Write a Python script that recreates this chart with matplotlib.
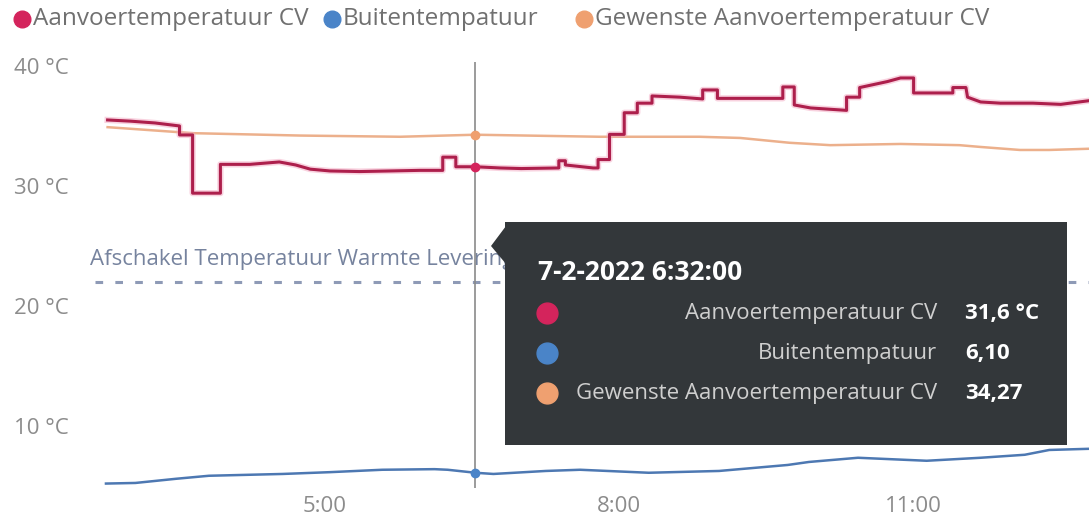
import matplotlib
matplotlib.use('Agg')
import matplotlib.pyplot as plt
import matplotlib.dates as mdates
from matplotlib.patches import Polygon, FancyBboxPatch
from matplotlib.lines import Line2D
import pandas as pd

plt.rcParams['font.family'] = ['Open Sans', 'DejaVu Sans']

# ---------------- data ----------------
DAG = '2022-02-07 '

# Aanvoertemperatuur CV (°C) - dubbele tijden = verticale stap
aanvoer_tijd = ['2:47', '3:01', '3:16', '3:31', '3:31', '3:39', '3:39', '3:56', '3:56', '4:14',
                '4:32', '4:42', '4:51', '5:03', '5:21', '5:40', '5:58', '6:12', '6:12', '6:20',
                '6:20', '6:32', '6:47', '7:00', '7:23', '7:23', '7:27', '7:27', '7:44', '7:47',
                '7:47', '7:54', '7:54', '8:03', '8:03', '8:11', '8:11', '8:20', '8:20', '8:37',
                '8:51', '8:51', '9:00', '9:00', '9:40', '9:40', '9:47', '9:47', '9:57', '10:19',
                '10:19', '10:27', '10:27', '10:44', '10:52', '11:00', '11:00', '11:24', '11:24', '11:32',
                '11:33', '11:41', '11:53', '12:13', '12:30', '12:47']
aanvoer_temp = [35.5, 35.4, 35.25, 35.0, 34.25, 34.25, 29.4, 29.4, 31.8, 31.8,
                32.0, 31.75, 31.4, 31.25, 31.2, 31.25, 31.3, 31.3, 32.4, 32.4,
                31.6, 31.6, 31.5, 31.45, 31.5, 32.1, 32.1, 31.75, 31.5, 31.5,
                32.2, 32.2, 34.3, 34.3, 36.1, 36.1, 36.9, 36.9, 37.5, 37.4,
                37.25, 38.0, 38.0, 37.3, 37.3, 38.25, 38.25, 36.75, 36.5, 36.3,
                37.4, 37.4, 38.2, 38.7, 39.0, 39.0, 37.75, 37.75, 38.2, 38.2,
                37.4, 37.0, 36.9, 36.9, 36.8, 37.1]

# Buitentempatuur (°C)
buiten_tijd = ['2:46', '3:04', '3:29', '3:49', '4:34', '5:03', '5:35', '6:07', '6:15', '6:32',
               '6:43', '7:15', '7:36', '8:18', '9:01', '9:43', '9:56', '10:26', '11:08', '11:41',
               '12:08', '12:23', '12:48']
buiten_temp = [5.2, 5.25, 5.6, 5.85, 6.0, 6.15, 6.35, 6.4, 6.35, 6.1,
               6.0, 6.25, 6.35, 6.1, 6.25, 6.75, 7.0, 7.35, 7.1, 7.35,
               7.6, 8.0, 8.1]

# Gewenste Aanvoertemperatuur CV (°C)
gewenst_tijd = ['2:47', '3:39', '4:45', '5:46', '6:32', '7:48', '8:49', '9:14', '9:44', '10:09',
                '10:52', '11:28', '11:41', '12:05', '12:23', '12:47']
gewenst_temp = [34.9, 34.4, 34.2, 34.1, 34.27, 34.1, 34.1, 34.0, 33.6, 33.4,
                33.5, 33.4, 33.25, 33.0, 33.0, 33.1]

afschakel_temp = 22.0
afschakel_label = 'Afschakel Temperatuur Warmte Levering'

cursor_tijd = '6:32:00'
cursor_titel = '7-2-2022 6:32:00'
reeksen = ['Aanvoertemperatuur CV', 'Buitentempatuur', 'Gewenste Aanvoertemperatuur CV']
cursor_waarden = [31.6, 6.10, 34.27]
cursor_teksten = ['31,6 °C', '6,10', '34,27']
kleuren = ['#d4245c', '#4a84c8', '#efa070']
lijn_kleuren = ['#ad1f4c', '#4d78b2', '#ecb08c']

y_ticks = [10, 20, 30, 40]
y_labels = ['10 °C', '20 °C', '30 °C', '40 °C']
x_uren = [5, 8, 11]


def tijden(lijst):
    return pd.to_datetime([DAG + t for t in lijst])


W, H = 1089, 517


def fx(x):
    return x / W


def fy(y):
    return 1 - y / H


# ---------------- figure ----------------
fig = plt.figure(figsize=(W / 100, H / 100), dpi=100)
ax = fig.add_axes([fx(95), fy(488), fx(1089) - fx(95), fy(62) - fy(488)])

ax.plot(tijden(buiten_tijd), buiten_temp, color=lijn_kleuren[1], lw=1.8, zorder=3)
ax.plot(tijden(gewenst_tijd), gewenst_temp, color=lijn_kleuren[2], lw=1.8, zorder=3)
ax.plot(tijden(aanvoer_tijd), aanvoer_temp, color='#f3a6c0', lw=4.5, alpha=0.5, zorder=3)
ax.plot(tijden(aanvoer_tijd), aanvoer_temp, color=lijn_kleuren[0], lw=2.2, zorder=4)

ax.axhline(afschakel_temp, color='#8e9ab6', lw=2.2, ls=(0, (2.5, 4)), zorder=2)
ax.text(fx(90), fy(259), afschakel_label, transform=fig.transFigure, color='#76839e',
        fontsize=16, va='center', ha='left', zorder=2)

# crosshair
ct = pd.to_datetime(DAG + cursor_tijd)
ax.axvline(ct, color='#8a8a8a', lw=1.2, zorder=5)
for v, k in zip(cursor_waarden, kleuren):
    ax.plot([ct], [v], 'o', color=k, ms=6, mec=k, zorder=6)

ax.set_xlim(pd.to_datetime(DAG + '2:39:18'), pd.to_datetime(DAG + '12:47:17'))
ax.set_ylim(4.83, 40.33)
ax.set_yticks(y_ticks)
ax.set_yticklabels(y_labels)
ax.xaxis.set_major_locator(mdates.HourLocator(byhour=x_uren))
ax.xaxis.set_major_formatter(mdates.DateFormatter('%-H:%M'))
ax.tick_params(axis='y', length=0, pad=19, labelsize=16, labelcolor='#8c8c8c')
ax.tick_params(axis='x', length=0, pad=6, labelsize=16, labelcolor='#8c8c8c')
for lbl in ax.get_yticklabels():
    lbl.set_horizontalalignment('right')
for s in ax.spines.values():
    s.set_visible(False)

# legenda bovenaan
leg_x = [22, 332, 584]
for x0, naam, k in zip(leg_x, reeksen, kleuren):
    fig.add_artist(Line2D([fx(x0)], [fy(19)], marker='o', ms=12, color=k, mec=k,
                          transform=fig.transFigure))
    fig.text(fx(x0 + 11), fy(19), naam, fontsize=17.5, color='#707070', va='center', ha='left')

# tooltip
bg = '#33373a'
pijl = Polygon([(fx(506), fy(226)), (fx(491), fy(246)), (fx(506), fy(264))],
               closed=True, transform=fig.transFigure, facecolor=bg, edgecolor='none', zorder=9)
pijl.set_clip_on(False)
ax.add_artist(pijl)
box = FancyBboxPatch((fx(505), fy(445)), fx(1067) - fx(505), fy(222) - fy(445),
                     boxstyle='square,pad=0', transform=fig.transFigure,
                     facecolor=bg, edgecolor='none', zorder=10)
box.set_clip_on(False)
ax.add_artist(box)
ax.text(fx(538), fy(272), cursor_titel, transform=fig.transFigure, color='white',
        fontsize=19, fontweight='bold', va='center', ha='left', zorder=11)
rij_y = [313, 353, 393]
for ry, naam, tekst, k in zip(rij_y, reeksen, cursor_teksten, kleuren):
    ax.plot([fx(547)], [fy(ry)], 'o', ms=15, color=k, mec=k, transform=fig.transFigure,
            clip_on=False, zorder=11)
    ax.text(fx(937), fy(ry), naam, transform=fig.transFigure, color='#cfcfcf',
            fontsize=16, va='center', ha='right', zorder=11)
    ax.text(fx(965), fy(ry), tekst, transform=fig.transFigure, color='white',
            fontsize=16, fontweight='bold', va='center', ha='left', zorder=11)

fig.savefig('out.png', dpi=100)
